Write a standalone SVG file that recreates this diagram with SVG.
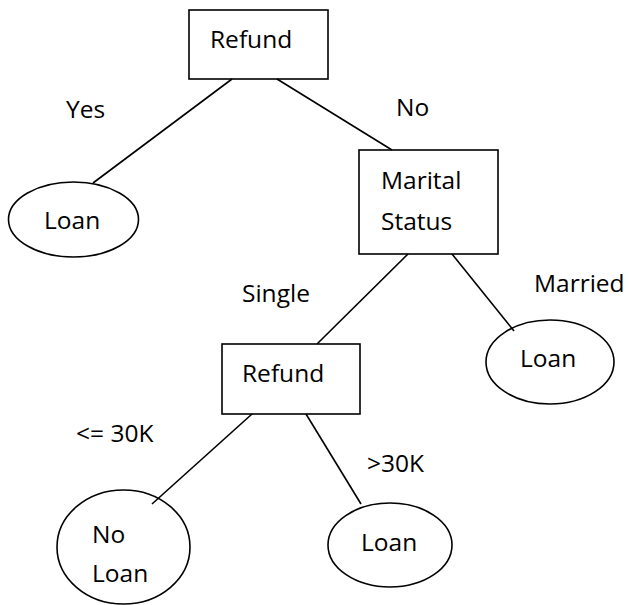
<svg xmlns="http://www.w3.org/2000/svg" width="629" height="605" viewBox="0 0 629 605">
<style>
.n{fill:#fff;stroke:#000;stroke-width:1.6}
.c line{stroke:#000;stroke-width:1.6}
text{font-family:"Open Sans","Liberation Sans",sans-serif;font-size:24.5px;fill:#000}
</style>
<defs>
<clipPath id="clipNo"><rect x="0" y="0" width="629" height="116"/></clipPath>
<clipPath id="clipNL"><rect x="0" y="0" width="629" height="582"/></clipPath>
<clipPath id="clipM"><rect x="0" y="0" width="627" height="605"/></clipPath>
</defs>
<rect width="629" height="605" fill="#fff"/>
<g id="refund-root"><rect class="n" x="189" y="10" width="139" height="69"/><text x="210" y="48">Refund</text></g>
<g id="loan-yes"><ellipse class="n" cx="73.5" cy="219.5" rx="65" ry="37.5"/><text x="44" y="229">Loan</text></g>
<g id="marital-status"><rect class="n" x="359" y="150" width="139" height="104"/><text x="381" y="189">Marital</text><text x="381" y="230">Status</text></g>
<g id="loan-married"><ellipse class="n" cx="550" cy="362" rx="64" ry="42"/><text x="520" y="367">Loan</text></g>
<g id="refund-single"><rect class="n" x="222" y="344" width="138" height="70"/><text x="242" y="382">Refund</text></g>
<g id="no-loan"><ellipse class="n" cx="123.5" cy="547" rx="66.5" ry="57"/><text x="92" y="543">No</text><text x="92" y="582" clip-path="url(#clipNL)">Loan</text></g>
<g id="loan-high"><ellipse class="n" cx="390" cy="545" rx="62" ry="42"/><text x="361" y="551">Loan</text></g>
<g id="connectors" class="c">
<line x1="232" y1="79" x2="93" y2="183"/>
<line x1="277" y1="79" x2="392" y2="150"/>
<line x1="408" y1="254" x2="317" y2="344"/>
<line x1="452" y1="254" x2="514" y2="331"/>
<line x1="252" y1="414" x2="152" y2="504"/>
<line x1="306" y1="414" x2="361" y2="504"/>
</g>
<g id="labels">
<text x="66" y="118">Yes</text>
<text x="396" y="116" clip-path="url(#clipNo)">No</text>
<text x="242" y="302">Single</text>
<text x="534" y="292" clip-path="url(#clipM)">Married</text>
<text x="76" y="442">&lt;= 30K</text>
<text x="367" y="472">&gt;30K</text>
</g>
</svg>
